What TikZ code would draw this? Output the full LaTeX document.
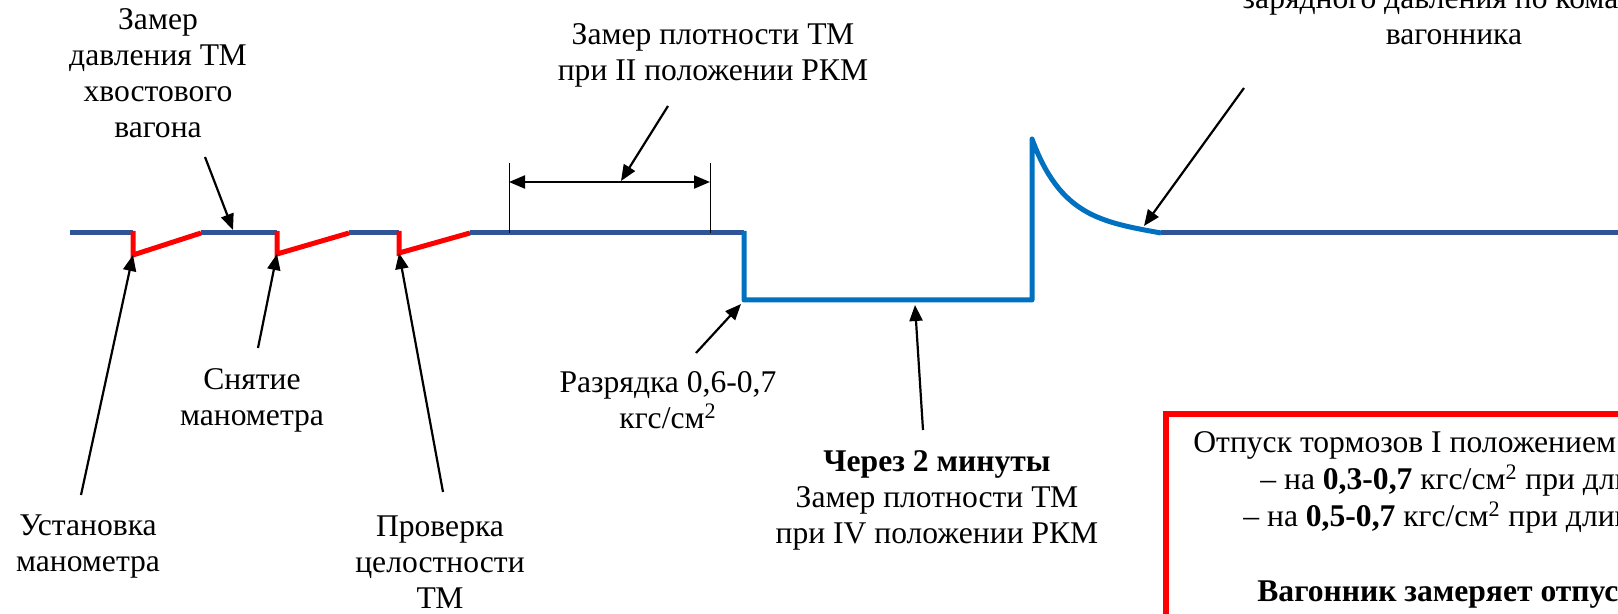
\documentclass[tikz,border=0pt]{standalone}
\usepackage{fontspec}
\setmainfont{Liberation Serif}
\usetikzlibrary{arrows.meta}

\definecolor{tmblue}{HTML}{2F5597}
\definecolor{brakeblue}{HTML}{0070C0}

\begin{document}
\begin{tikzpicture}[x=0.5pt, y=-0.5pt]

\tikzset{
  LabelStyle/.style = { align = center, inner sep = 0pt, anchor = base,
                       font = \fontsize{15.8}{18}\selectfont },
  BoxText/.style = { inner sep = 0pt, anchor = base west,
                     font = \fontsize{15.8}{18}\selectfont },
  PointerStyle/.style = { line width = 1.1pt,
                          -{Triangle[length=8pt, width=6.5pt]} },
  DimStyle/.style = { line width = 1.1pt,
                      {Triangle[length=8pt, width=6.5pt]}-{Triangle[length=8pt, width=6.5pt]} },
  TmLine/.style = { line width = 2.5pt, color = tmblue },
  GaugeLine/.style = { line width = 2.5pt, color = red },
  BrakeLine/.style = { line width = 2.5pt, color = brakeblue, line join = round },
  TickStyle/.style = { line width = 0.5pt },
  BoxFrame/.style = { line width = 3pt, draw = red } }

  \clip (0, 0) rectangle (1618, 614);

  % pressure in the brake line
  \coordinate (p0) at (70, 233);
  \coordinate (d1) at (133, 233);  \coordinate (b1) at (133, 255);
  \coordinate (r1) at (201, 233);
  \coordinate (d2) at (277, 233);  \coordinate (b2) at (277, 254);
  \coordinate (r2) at (349, 233);
  \coordinate (d3) at (399, 233);  \coordinate (b3) at (399, 253);
  \coordinate (r3) at (470, 233);
  \coordinate (q0) at (744, 233);
  \coordinate (q1) at (744, 300);
  \coordinate (q2) at (1032, 300);
  \coordinate (q3) at (1032, 139);
  \coordinate (q4) at (1161, 233);
  \coordinate (pEnd) at (1618, 233);

  \draw[TmLine] (p0) -- (d1);
  \draw[GaugeLine] (d1 |- 0, 231) -- (b1) -- (r1);
  \draw[TmLine] (r1) -- (d2);
  \draw[GaugeLine] (d2 |- 0, 231) -- (b2) -- (r2);
  \draw[TmLine] (r2) -- (d3);
  \draw[GaugeLine] (d3 |- 0, 231) -- (b3) -- (r3);
  \draw[TmLine] (r3) -- (q0);
  \draw[BrakeLine] (q0 |- 0, 231) -- (q1) -- (q2) -- (q3)
    .. controls (1060, 215) and (1100, 222) .. (q4);
  \draw[TmLine] (q4) -- (pEnd);

  % labels (placed at the baseline of their last line)
  \node[LabelStyle] (tailGauge) at (158, 138) {Замер\\давления ТМ\\хвостового\\вагона};
  \node[LabelStyle] (densII) at (713, 81) {Замер плотности ТМ\\при II положении РКМ};
  \node[LabelStyle] (charge) at (1454, 45) {зарядного давления по команде\\вагонника};
  \node[LabelStyle] (setGauge) at (88, 572) {Установка\\манометра};
  \node[LabelStyle] (offGauge) at (252, 426) {Снятие\\манометра};
  \node[LabelStyle] (check) at (440, 609) {Проверка\\целостности\\ТМ};
  \node[LabelStyle] (drop) at (668, 429) {Разрядка 0,6-0,7\\кгс/см\textsuperscript{2}};
  \node[LabelStyle] (densIV) at (937, 544) {\textbf{Через 2 минуты}\\Замер плотности ТМ\\при IV положении РКМ};

  % pointers
  \coordinate (tailGaugeFrom) at (205, 157);  \coordinate (tailGaugeTo) at (233, 230);
  \coordinate (densIIFrom) at (668, 106);     \coordinate (densIITo) at (621, 181);
  \coordinate (chargeFrom) at (1244, 88);     \coordinate (chargeTo) at (1144, 226);
  \coordinate (setGaugeFrom) at (81, 495);
  \coordinate (offGaugeFrom) at (258, 348);
  \coordinate (checkFrom) at (443, 492);
  \coordinate (dropFrom) at (696, 353);       \coordinate (dropTo) at (741, 304);
  \coordinate (densIVFrom) at (923, 430);     \coordinate (densIVTo) at (915, 305);

  \draw[PointerStyle] (tailGaugeFrom) -- (tailGaugeTo);
  \draw[PointerStyle] (densIIFrom) -- (densIITo);
  \draw[PointerStyle] (chargeFrom) -- (chargeTo);
  \draw[PointerStyle] (setGaugeFrom) -- (b1);
  \draw[PointerStyle] (offGaugeFrom) -- (b2);
  \draw[PointerStyle] (checkFrom) -- (b3);
  \draw[PointerStyle] (dropFrom) -- (dropTo);
  \draw[PointerStyle] (densIVFrom) -- (densIVTo);

  % measured interval
  \coordinate (dimL) at (509, 182);
  \coordinate (dimR) at (710, 182);
  \draw[TickStyle] (509, 163) -- (509, 233);
  \draw[TickStyle] (710, 163) -- (710, 233);
  \draw[DimStyle] (dimL) -- (dimR);

  % release box
  \draw[BoxFrame] (1166, 414) rectangle (1660, 660);
  \node[BoxText] (rel1) at (1193, 453) {Отпуск тормозов I положением РКМ};
  \node[BoxText] (rel2) at (1260, 490) {– на \textbf{0,3-0,7} кгс/см\textsuperscript{2} при длине};
  \node[BoxText] (rel3) at (1243, 527) {– на \textbf{0,5-0,7} кгс/см\textsuperscript{2} при длине};
  \node[BoxText] (rel4) at (1257, 602) {\textbf{Вагонник замеряет отпуск}};

\end{tikzpicture}
\end{document}
